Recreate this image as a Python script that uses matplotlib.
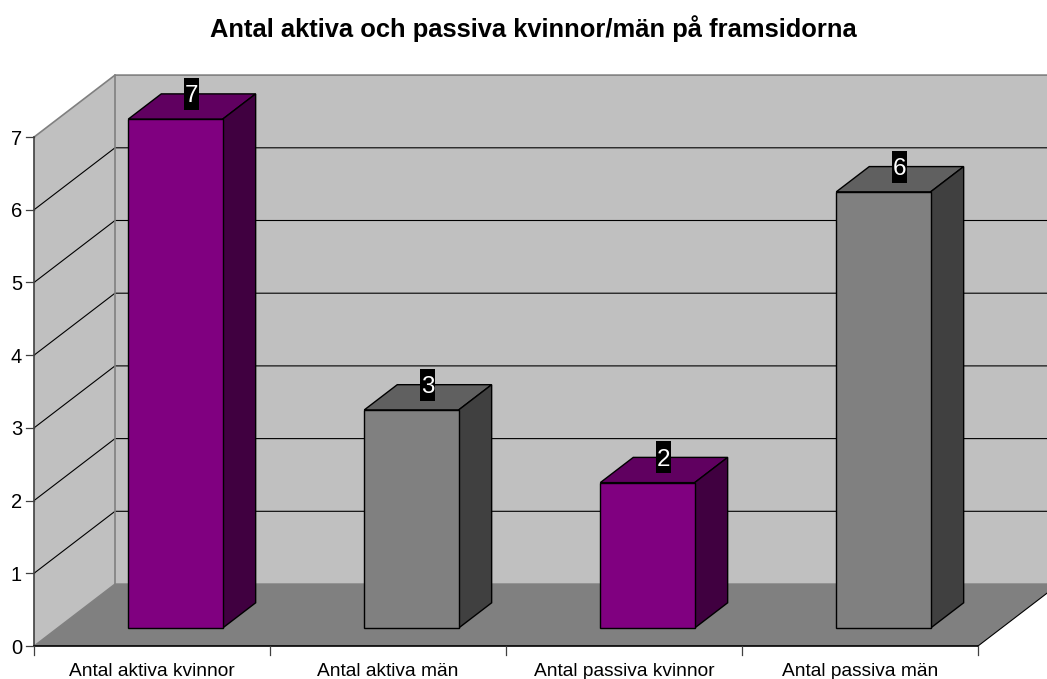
from matplotlib import pyplot as plt
from matplotlib.patches import Polygon, Rectangle

categories = ['Antal aktiva kvinnor', 'Antal aktiva män', 'Antal passiva kvinnor', 'Antal passiva män']
values = [7, 3, 2, 6]
bar_colors = [('#800080', '#600060', '#400040'), ('#808080', '#606060', '#404040'),
              ('#800080', '#600060', '#400040'), ('#808080', '#606060', '#404040')]
y_ticks = [0, 1, 2, 3, 4, 5, 6, 7]
title = 'Antal aktiva och passiva kvinnor/män på framsidorna'

W, H = 1047, 679
X0, Y0 = 34, 646          # front corner of the chart, in pixels
CAT_W, UNIT_H = 236, 72.7 # pixels per category / per value
DX, DY = 81 / CAT_W, 62 / UNIT_H  # full depth offset in data units
BAR_W = 0.4
D_FRONT, D_BACK = 0.29, 0.697

plt.rcParams['font.family'] = ['Liberation Sans', 'DejaVu Sans']

fig = plt.figure(figsize=(W / 100, H / 100), dpi=100)
ax = fig.add_axes([0, 0, 1, 1])
ax.set_xlim(-X0 / CAT_W, (W - X0) / CAT_W)
ax.set_ylim((Y0 - H) / UNIT_H, Y0 / UNIT_H)
ax.axis('off')


def depth(x, y, d):
    return (x + d * DX, y + d * DY)


n = len(categories)
top = y_ticks[-1]

# walls and floor
ax.add_patch(Polygon([depth(0, 0, 1), depth(0, top, 1), depth(n, top, 1), depth(n, 0, 1)],
                     fc='#c0c0c0', ec='none'))
ax.add_patch(Polygon([(0, 0), (0, top), depth(0, top, 1), depth(0, 0, 1)], fc='#c0c0c0', ec='none'))
ax.add_patch(Polygon([(0, 0), (n, 0), depth(n, 0, 1), depth(0, 0, 1)], fc='#808080', ec='none'))

# gridlines
for v in y_ticks[1:-1]:
    p0, p1, p2 = (0, v), depth(0, v, 1), depth(n, v, 1)
    ax.plot([p0[0], p1[0], p2[0]], [p0[1], p1[1], p2[1]], color='black', lw=0.8)

# wall borders
p = [(0, top), depth(0, top, 1), depth(n, top, 1)]
ax.plot([a[0] for a in p], [a[1] for a in p], color='#808080', lw=1.2)
p = [depth(0, 0, 1), depth(0, top, 1)]
ax.plot([a[0] for a in p], [a[1] for a in p], color='#808080', lw=1.2)
p = [(0, 0), depth(0, 0, 1), depth(n, 0, 1)]
ax.plot([a[0] for a in p], [a[1] for a in p], color='#808080', lw=1)
p = [(n, 0), depth(n, 0, 1)]
ax.plot([a[0] for a in p], [a[1] for a in p], color='black', lw=0.8)

# axes and ticks
ax.plot([0, 0], [0, top], color='#404040', lw=1.2)
ax.plot([0, n], [0, 0], color='black', lw=1.2)
for v in y_ticks:
    ax.plot([-8 / CAT_W, 0], [v, v], color='#404040', lw=0.9)
    ax.text(-12 / CAT_W, v, str(v), ha='right', va='center_baseline', fontsize=14.5, color='black')
for i in range(n + 1):
    ax.plot([i, i], [0, -9 / UNIT_H], color='#404040', lw=0.9)
for i, c in enumerate(categories):
    ax.text(i + 0.5, -29.7 / UNIT_H, c, ha='center', va='baseline', fontsize=13.8, color='black')

# bars
for i, v in enumerate(values):
    front, top_c, side = bar_colors[i]
    l, r = i + 0.5 - BAR_W / 2, i + 0.5 + BAR_W / 2
    ax.add_patch(Polygon([depth(l, v, D_FRONT), depth(r, v, D_FRONT), depth(r, v, D_BACK), depth(l, v, D_BACK)],
                         fc=top_c, ec='black', lw=1, joinstyle='miter', zorder=3))
    ax.add_patch(Polygon([depth(r, 0, D_FRONT), depth(r, 0, D_BACK), depth(r, v, D_BACK), depth(r, v, D_FRONT)],
                         fc=side, ec='black', lw=1, joinstyle='miter', zorder=3))
    ax.add_patch(Polygon([depth(l, 0, D_FRONT), depth(r, 0, D_FRONT), depth(r, v, D_FRONT), depth(l, v, D_FRONT)],
                         fc=front, ec='black', lw=1, joinstyle='miter', zorder=3))
    # value label on its black block
    cx, _ = depth(i + 0.5, v, (D_FRONT + D_BACK) / 2)
    _, cy = depth(i + 0.5, v, D_BACK)
    bw, bh = 15 / CAT_W, 32 / UNIT_H
    ax.add_patch(Rectangle((cx - bw / 2, cy - bh / 2), bw, bh, fc='black', ec='none', zorder=4))
    ax.text(cx, cy, str(v), ha='center', va='center_baseline', fontsize=17.5, color='white', zorder=5)

ax.text(533.5 / W, 1 - 29 / H, title, transform=ax.transAxes, ha='center', va='center',
        fontsize=18.4, fontweight='bold', color='black')

fig.savefig('out.png', dpi=100)
